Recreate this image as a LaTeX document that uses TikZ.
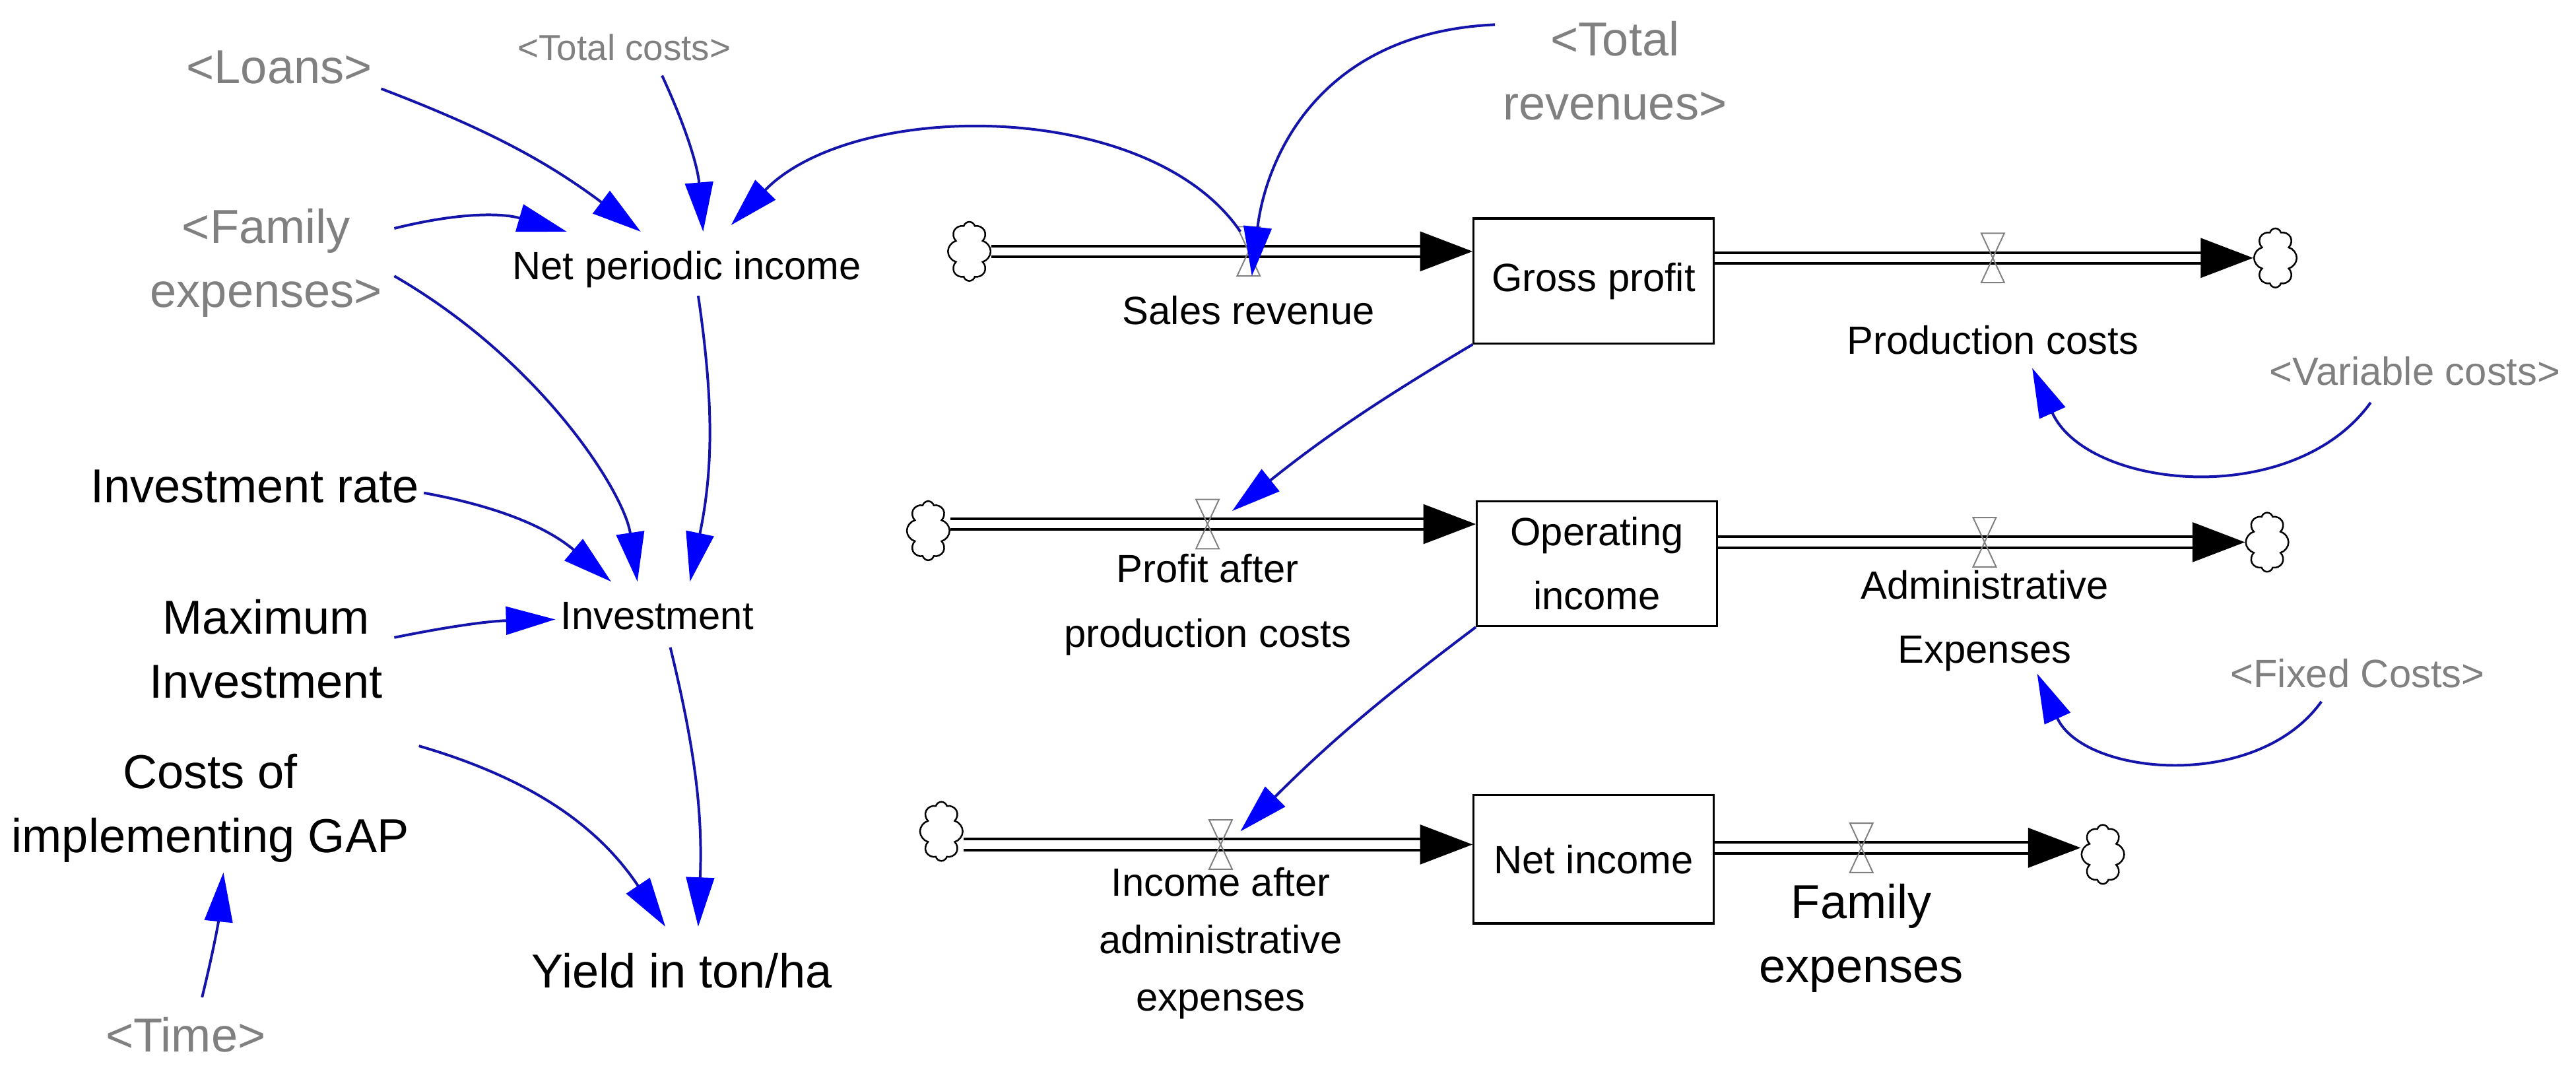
\documentclass[tikz,border=0pt]{standalone}
\usepackage{fontspec}
\setmainfont{Liberation Sans}
\usetikzlibrary{arrows.meta,shapes.symbols,calc}
\definecolor{lblue}{RGB}{20,20,170}
\definecolor{ggray}{RGB}{128,128,128}
\tikzset{
  lab/.style={align=center,inner sep=0pt,font=\fontsize{24}{39}\selectfont},
  big/.style={align=center,inner sep=0pt,font=\fontsize{29}{39}\selectfont},
  glab/.style={big,text=ggray},
  link/.style={draw=lblue,line width=1.6pt,-{Triangle[length=30pt,width=17pt,fill=blue,color=blue]}},
  pipe/.style={double=white,double distance=5pt,line width=1.6pt,draw=black,-{Triangle[length=32pt,width=24pt,fill=black]}},
  stock/.style={draw,line width=1.3pt,minimum width=146pt,inner sep=0pt,align=center,font=\fontsize{24}{39}\selectfont},
  cloudy/.style={cloud,cloud puffs=8,draw,line width=1pt,minimum width=26pt,minimum height=36pt,aspect=0.7,inner sep=0pt},
}
\newcommand{\valve}[1]{\draw[ggray,line width=0.8pt] ($(#1)+(-7,-15)$)--($(#1)+(7,-15)$)--($(#1)+(-7,15)$)--($(#1)+(7,15)$)--cycle;}
\begin{document}
\begin{tikzpicture}[x=1pt,y=-1pt]
\useasboundingbox (0,0) rectangle (1568,650);
% stocks
\node[stock,minimum height=76pt] (gp) at (970,171) {Gross profit};
\node[stock,minimum height=76pt] (op) at (972,343) {Operating\\income};
\node[stock,minimum height=78pt] (ni) at (970,523) {Net income};
% clouds
\node[cloudy] (c1) at (590,153) {};
\node[cloudy] (c2) at (1385,157) {};
\node[cloudy] (c3) at (565,323) {};
\node[cloudy] (c4) at (1380,330) {};
\node[cloudy] (c5) at (573,506) {};
\node[cloudy] (c6) at (1280,520) {};
% valves
\coordinate (v1) at (760,153);
\coordinate (v2) at (735,319);
\coordinate (v3) at (743,514);
\coordinate (v4) at (1213,157);
\coordinate (v5) at (1208,330);
\coordinate (v6) at (1133,516);
\draw[pipe] (c1.east |- v1) -- (gp.west |- v1);
\draw[pipe] (gp.east |- v4) -- (c2.west |- v4);
\draw[pipe] (c3.east |- v2) -- (op.west |- v2);
\draw[pipe] (op.east |- v5) -- (c4.west |- v5);
\draw[pipe] (c5.east |- v3) -- (ni.west |- v3);
\draw[pipe] (ni.east |- v6) -- (c6.west |- v6);
\valve{v1}\valve{v2}\valve{v3}\valve{v4}\valve{v5}\valve{v6}
% labels
\node[lab] (sr) at (760,189) {Sales revenue};
\node[lab] (pc) at (1213,207) {Production costs};
\node[lab] (papc) at (735,368) {Profit after\\production costs};
\node[lab] (ae) at (1208,378) {Administrative\\Expenses};
\node[lab,font=\fontsize{24}{35}\selectfont] (iaae) at (743,574) {Income after\\administrative\\expenses};
\node[big] (fe) at (1133,571) {Family\\expenses};
\node[lab] (npi) at (418,164) {Net periodic income};
\node[lab] (inv) at (400,375) {Investment};
\node[big] (rate) at (155,296) {Investment rate};
\node[big] (maxi) at (162,395) {Maximum\\Investment};
\node[big] (gap) at (128,492) {Costs of\\implementing GAP};
\node[big] (yield) at (415,591) {Yield in ton/ha};
% shadow variables
\node[glab] (loans) at (170,41) {<Loans>};
\node[glab,font=\fontsize{22}{30}\selectfont] (tc) at (380,29) {<Total costs>};
\node[glab] (fam) at (162,160) {<Family\\expenses>};
\node[glab] (tr) at (983,43) {<Total\\revenues>};
\node[glab,font=\fontsize{24}{30}\selectfont] (vc) at (1470,226) {<Variable costs>};
\node[glab,font=\fontsize{24}{30}\selectfont] (fc) at (1435,410) {<Fixed Costs>};
\node[glab] (time) at (113,630) {<Time>};
% links
\draw[link] ($(loans)+(62,13)$) to[bend left=8] ($(npi)+(-28,-23)$);
\draw[link] ($(tc)+(23,17)$) to[bend left=10] ($(npi)+(10,-23)$);
\draw[link] ($(fam)+(78,-21)$) to[bend left=15] ($(npi)+(-73,-23)$);
\draw[link] ($(v1)+(-5,-12)$) .. controls (700,60) and (520,60) .. ($(npi)+(27,-27)$);
\draw[link] ($(tr)+(-73,-28)$) .. controls (800,20) and (770,100) .. ($(v1)+(2,15)$);
\draw[link] ($(fam)+(78,8)$) .. controls (330,220) and (380,300) .. ($(inv)+(-12,-21)$);
\draw[link] ($(npi)+(7,16)$) to[bend left=10] ($(inv)+(20,-21)$);
\draw[link] ($(rate)+(103,4)$) to[bend left=15] ($(inv)+(-28,-21)$);
\draw[link] ($(maxi)+(78,-7)$) to[bend left=5] ($(inv)+(-62,2)$);
\draw[link] ($(maxi)+(93,59)$) to[bend left=20] ($(yield)+(-10,-27)$);
\draw[link] ($(inv)+(8,19)$) to[bend left=8] ($(yield)+(10,-27)$);
\draw[link] ($(time)+(10,-23)$) to[bend right=4] ($(gap)+(8,39)$);
\draw[link] (gp.south west) to[bend right=4] ($(v2)+(15,-8)$);
\draw[link] (op.south west) to[bend right=4] ($(v3)+(12,-8)$);
\draw[link] ($(vc)+(-27,19)$) to[bend left=60] ($(pc)+(24,17)$);
\draw[link] ($(fc)+(-22,17)$) to[bend left=60] ($(ae)+(32,32)$);
\end{tikzpicture}
\end{document}
